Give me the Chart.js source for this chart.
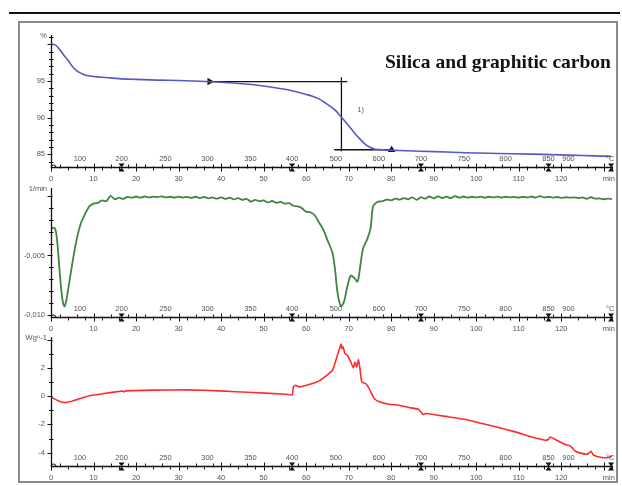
<!DOCTYPE html>
<html>
<head>
<meta charset="utf-8">
<script src="https://cdn.jsdelivr.net/npm/chart.js@4.4.1/dist/chart.umd.min.js"></script>
<style>
body { margin:0; background:#fff; }
#wrap { position:relative; width:622px; height:486px; overflow:hidden; }
#wrap canvas { position:absolute; left:0; }
#topline { position:absolute; left:9px; top:12px; width:611px; height:0; border-top:2px solid #111; }
#frame { position:absolute; left:18px; top:21px; width:596px; height:458px; border:2px solid #8a8a8a; }
#title { position:absolute; left:385px; top:51px; font:bold 19.5px "Liberation Serif", "Times New Roman", serif; color:#111; white-space:nowrap; }
</style>
</head>
<body>
<div id="wrap">
  <div id="topline"></div>
  <div id="frame"></div>
  <canvas id="c1" width="622" height="190" style="top:0px;width:622px;height:190px"></canvas>
  <canvas id="c2" width="622" height="170" style="top:170px;width:622px;height:170px"></canvas>
  <canvas id="c3" width="622" height="166" style="top:320px;width:622px;height:166px"></canvas>
  <div id="title">Silica and graphitic carbon</div>
</div>
<script>
// time axis (min) shared by the three panels
var minTicks = [0, 10, 20, 30, 40, 50, 60, 70, 80, 90, 100, 110, 120];
var tempLabels = ['100', '200', '250', '300', '350', '400', '500', '600', '700', '750', '800', '850', '900', '°C'];
var tempTimes = [6.8, 16.6, 26.9, 36.8, 46.9, 56.7, 67.0, 77.1, 87.0, 97.1, 106.9, 117.0, 121.7, 131.5];
var segTimes = [16.6, 56.7, 87.0, 117.0, 131.7];

// TGA (%)
var tgaTime = [0, 1, 2, 3, 4, 5, 6, 7, 8, 10, 13, 16, 20, 25, 30, 35, 40, 45, 50, 55, 58.4, 60, 61.5, 63.1, 64.6, 66.2, 67.2, 68.2, 69.2, 70.1, 71.1, 72.1, 73.0, 74.0, 75.0, 76.0, 78, 81.8, 90, 97.5, 105, 113.1, 120, 126, 131.8];
var tgaValue = [100.0, 99.9, 99.3, 98.5, 97.8, 97.0, 96.4, 96.05, 95.8, 95.6, 95.45, 95.3, 95.2, 95.1, 95.05, 94.95, 94.8, 94.6, 94.3, 93.85, 93.4, 93.15, 92.9, 92.5, 91.95, 91.3, 90.8, 90.1, 89.45, 88.8, 88.1, 87.4, 86.85, 86.3, 85.95, 85.7, 85.6, 85.5, 85.35, 85.2, 85.1, 85.0, 84.9, 84.8, 84.7];
var tgaTicks = [85, 90, 95];
var stepUpper = [[37.3, 94.9], [69.7, 94.9]];
var stepLower = [[80.1, 85.6], [66.6, 85.6]];
var stepVert = [[68.3, 95.5], [68.3, 85.4]];
var stepLabel = '1)';
var stepLabelPos = [72.8, 91.0];

// DTG (1/min)
var dtgTime = [0, 0.9, 1.4, 2.0, 2.5, 2.9, 3.2, 3.6, 4.2, 5.0, 6.0, 7.0, 8.0, 9.0, 10, 11, 12, 13, 14, 15, 16, 17, 18, 19, 20, 21, 22, 23, 24, 25, 26, 27, 28, 29, 30, 31, 32, 33, 34, 35, 36, 37, 38, 39, 40, 41, 42, 43, 44, 45, 46, 47, 48, 49, 50, 51, 52, 53, 54, 55, 56, 57, 58, 59, 60, 61, 62, 63, 64, 65, 66.2, 66.8, 67.4, 68.2, 68.9, 69.7, 70.5, 71.3, 72.1, 72.8, 73.4, 74.4, 75.2, 75.7, 76.7, 78, 79, 80, 81, 82, 83, 84, 85, 86, 87, 88, 89, 90, 91, 92, 93, 94, 95, 96, 97, 98, 99, 100, 101, 102, 103, 104, 105, 106, 107, 108, 109, 110, 111, 112, 113, 114, 115, 116, 117, 118, 119, 120, 121, 122, 123, 124, 125, 126, 127, 128, 129, 130, 131, 131.9];
var dtgValue = [-0.0027, -0.0027, -0.0036, -0.0062, -0.0082, -0.0091, -0.0093, -0.0088, -0.0075, -0.0057, -0.0037, -0.0023, -0.0015, -0.00085, -0.00062, -0.00055, -0.00035, -0.00042, 0.00003, -0.00025, -0.00012, -0.00022, -0.00005, -0.00012, -0.00002, -0.00012, -0.00002, -0.0001, -0.00003, -0.00008, 0.0, -0.0001, -0.00004, -0.00012, -0.00003, -0.00011, -0.00005, -0.00013, -0.00004, -0.00015, -0.00006, -0.00017, -0.0001, -0.0002, -0.0001, -0.00022, -0.00012, -0.00026, -0.00016, -0.0003, -0.00022, -0.00045, -0.0003, -0.00042, -0.00035, -0.00052, -0.0004, -0.00055, -0.00048, -0.00062, -0.00058, -0.0008, -0.00085, -0.001, -0.0013, -0.00135, -0.0016, -0.0022, -0.0028, -0.0037, -0.0048, -0.0062, -0.0082, -0.0093, -0.0089, -0.0076, -0.0067, -0.0069, -0.0072, -0.0057, -0.0044, -0.0036, -0.0026, -0.0009, -0.00048, -0.0004, -0.00028, -0.00034, -0.0002, -0.00028, -0.00015, -0.00025, -0.0001, -0.0003, -0.00008, -0.0002, -0.00002, -0.00018, 0.0, -0.00015, -0.00003, -0.00016, 0.00002, -0.00012, -0.00002, -0.00012, -0.00004, -0.0001, -0.00003, -0.00012, -0.00004, -0.0001, -0.00003, -0.00011, -0.00004, -0.0001, -0.00005, -0.00012, -0.00004, -0.0001, -0.00002, -0.00011, 0.00002, -0.0001, -0.00004, -0.00012, -0.00006, -0.00013, -0.00008, -0.00012, -0.00009, -0.00015, -0.0001, -0.00022, -0.00008, -0.0002, -0.00018, -0.00025, -0.0002, -0.00024];
var dtgTicks = [-0.005, -0.010];
var dtgTickLabels = ['-0,005', '-0,010'];

// DSC (W/g)
var dscTime = [0, 1.4, 3.0, 4.6, 6.9, 9.3, 12.4, 16.3, 16.9, 17.2, 17.6, 24.1, 31.9, 39.7, 47.5, 55.3, 56.7, 57.0, 57.5, 58.4, 60.7, 63.1, 64.6, 66.2, 67.0, 67.6, 68.0, 68.2, 68.4, 68.7, 69.1, 69.7, 70.5, 71.1, 71.5, 71.9, 72.3, 72.6, 73.1, 74.0, 74.8, 76.0, 77.2, 79.5, 81.8, 84.2, 86.5, 87.5, 88.1, 93.6, 97.5, 101.4, 105.3, 109.2, 113.1, 116.3, 116.9, 117.4, 118.6, 120.9, 122.1, 123.3, 125.6, 126.4, 127.0, 127.6, 129.5, 131.0, 132.0];
var dscValue = [-0.05, -0.28, -0.45, -0.38, -0.16, 0.05, 0.19, 0.35, 0.37, 0.3, 0.38, 0.43, 0.45, 0.38, 0.26, 0.14, 0.09, 0.66, 0.78, 0.66, 0.83, 1.09, 1.42, 1.84, 2.55, 3.14, 3.5, 3.69, 3.38, 3.5, 3.03, 2.91, 2.43, 2.01, 2.43, 2.08, 2.6, 2.08, 1.01, 0.9, 0.55, -0.16, -0.4, -0.57, -0.64, -0.8, -0.94, -1.3, -1.23, -1.47, -1.65, -1.94, -2.22, -2.53, -2.89, -3.12, -3.07, -2.89, -3.07, -3.43, -3.52, -3.9, -4.11, -4.06, -3.9, -4.18, -4.35, -4.35, -4.26];
var dscTicks = [2, 0, -2, -4];

function pts(t, v) {
  return t.map(function (x, i) { return { x: x, y: v[i] }; });
}
function pairs(a) {
  return a.map(function (p) { return { x: p[0], y: p[1] }; });
}

Chart.defaults.font.family = '"Liberation Sans", Arial, sans-serif';

// axis lines, crossing ticks, temperature labels and unit title
var deco = {
  id: 'deco',
  afterDraw: function (chart, args, o) {
    var ctx = chart.ctx, a = chart.chartArea, x = chart.scales.x, y = chart.scales.y;
    var L = a.left + 0.5, B = Math.round(a.bottom) + 0.5;
    ctx.save();
    ctx.strokeStyle = '#111';
    ctx.fillStyle = '#111';
    ctx.lineWidth = 1.3;
    ctx.beginPath();
    ctx.moveTo(L, a.top); ctx.lineTo(L, B);
    ctx.moveTo(L, B); ctx.lineTo(a.right, B);
    ctx.stroke();
    ctx.lineWidth = 1;
    // y ticks
    var k0 = Math.ceil(y.min / o.yStep - 1e-6), k1 = Math.floor(y.max / o.yStep + 1e-6);
    ctx.beginPath();
    for (var k = k0; k <= k1; k++) {
      var py = Math.round(y.getPixelForValue(k * o.yStep)) + 0.5;
      if (k % o.yMajor === 0) { ctx.moveTo(L - 4, py); ctx.lineTo(L + 1, py); }
      else { ctx.moveTo(L - 2.5, py); ctx.lineTo(L + 2, py); }
    }
    // x ticks every 2 min
    for (var j = 0; j <= 66; j++) {
      var px = Math.round(x.getPixelForValue(j * 2)) + 0.5;
      if (px > a.right + 1) break;
      if (j % 5 === 0) { ctx.moveTo(px, B - 4); ctx.lineTo(px, B + 4); }
      else if (j % 2) { ctx.moveTo(px, B - 3); ctx.lineTo(px, B + 1); }
      else { ctx.moveTo(px, B - 1); ctx.lineTo(px, B + 3); }
    }
    ctx.stroke();
    // segment markers
    segTimes.forEach(function (t) {
      var px = x.getPixelForValue(t);
      ctx.beginPath();
      ctx.moveTo(px - 3, B - 4); ctx.lineTo(px + 3, B - 4); ctx.lineTo(px, B);
      ctx.moveTo(px - 3, B + 4); ctx.lineTo(px + 3, B + 4); ctx.lineTo(px, B);
      ctx.fill();
    });
    ctx.beginPath();
    ctx.arc(L + 2, B, 2.5, Math.PI, 0);
    ctx.stroke();
    // temperature labels
    ctx.fillStyle = '#555';
    ctx.font = '7.5px "Liberation Sans", Arial, sans-serif';
    ctx.textAlign = 'center';
    ctx.textBaseline = 'middle';
    tempLabels.forEach(function (s, i) {
      ctx.fillText(s, x.getPixelForValue(tempTimes[i]), B - 9);
    });
    // unit title
    ctx.textAlign = 'right';
    ctx.fillText(o.unit, a.left - 4, a.top + 1);
    if (o.note) {
      ctx.textAlign = 'center';
      ctx.fillText(o.note, x.getPixelForValue(o.notePos[0]), y.getPixelForValue(o.notePos[1]));
    }
    ctx.restore();
  }
};

function makeOptions(cfg) {
  return {
    responsive: false,
    animation: false,
    layout: { padding: { top: cfg.top, right: 8, left: 0, bottom: 0 } },
    plugins: {
      legend: { display: false },
      tooltip: { enabled: false },
      deco: cfg.deco
    },
    elements: { point: { radius: 0 } },
    scales: {
      x: {
        type: 'linear', min: 0, max: 132,
        afterFit: function (s) { s.height = cfg.xh; },
        afterBuildTicks: function (s) {
          s.ticks = minTicks.map(function (v) { return { value: v }; }).concat([{ value: 131.2 }]);
        },
        grid: { display: false, drawTicks: false },
        border: { display: false },
        ticks: {
          autoSkip: false, maxRotation: 0, padding: 7, color: '#555',
          font: { size: 7.5 },
          callback: function (v) { return v > 130 ? 'min' : v; }
        }
      },
      y: {
        min: cfg.min, max: cfg.max,
        afterFit: function (s) { s.width = 51; },
        afterBuildTicks: function (s) {
          s.ticks = cfg.ticks.map(function (v) { return { value: v }; });
        },
        grid: { display: false, drawTicks: false },
        border: { display: false },
        ticks: {
          padding: 6, color: '#555', font: { size: 7.5 },
          callback: cfg.label
        }
      }
    }
  };
}

new Chart(document.getElementById('c1'), {
  type: 'line',
  data: {
    datasets: [
      { data: pts(tgaTime, tgaValue), borderColor: '#5559c4', borderWidth: 1.6, cubicInterpolationMode: 'monotone' },
      { data: pairs(stepUpper), borderColor: '#111', borderWidth: 1.3, pointRadius: [3, 0], pointStyle: 'triangle', pointRotation: 90, pointBackgroundColor: '#111' },
      { data: pairs(stepLower), borderColor: '#111', borderWidth: 1.3, pointRadius: [3, 0], pointStyle: 'triangle', pointRotation: 0, pointBackgroundColor: '#111' },
      { data: pairs(stepVert), borderColor: '#111', borderWidth: 1.3 }
    ]
  },
  options: makeOptions({
    top: 35, xh: 23, min: 83.25, max: 101.25, ticks: tgaTicks,
    label: function (v) { return v; },
    deco: { unit: '%', yStep: 1, yMajor: 5, note: stepLabel, notePos: stepLabelPos }
  }),
  plugins: [deco]
});

new Chart(document.getElementById('c2'), {
  type: 'line',
  data: {
    datasets: [
      { data: pts(dtgTime, dtgValue), borderColor: '#3f843f', borderWidth: 1.8, tension: 0.3 }
    ]
  },
  options: makeOptions({
    top: 18, xh: 23, min: -0.0102, max: 0.0007, ticks: dtgTicks,
    label: function (v, i) { return dtgTickLabels[i]; },
    deco: { unit: '1/min', yStep: 0.001, yMajor: 5 }
  }),
  plugins: [deco]
});

new Chart(document.getElementById('c3'), {
  type: 'line',
  data: {
    datasets: [
      { data: pts(dscTime, dscValue), borderColor: '#ff2b2b', borderWidth: 1.6, tension: 0.15 }
    ]
  },
  options: makeOptions({
    top: 17, xh: 20, min: -4.95, max: 4.2, ticks: dscTicks,
    label: function (v) { return v; },
    deco: { unit: 'Wg^-1', yStep: 1, yMajor: 2 }
  }),
  plugins: [deco]
});
</script>
</body>
</html>
